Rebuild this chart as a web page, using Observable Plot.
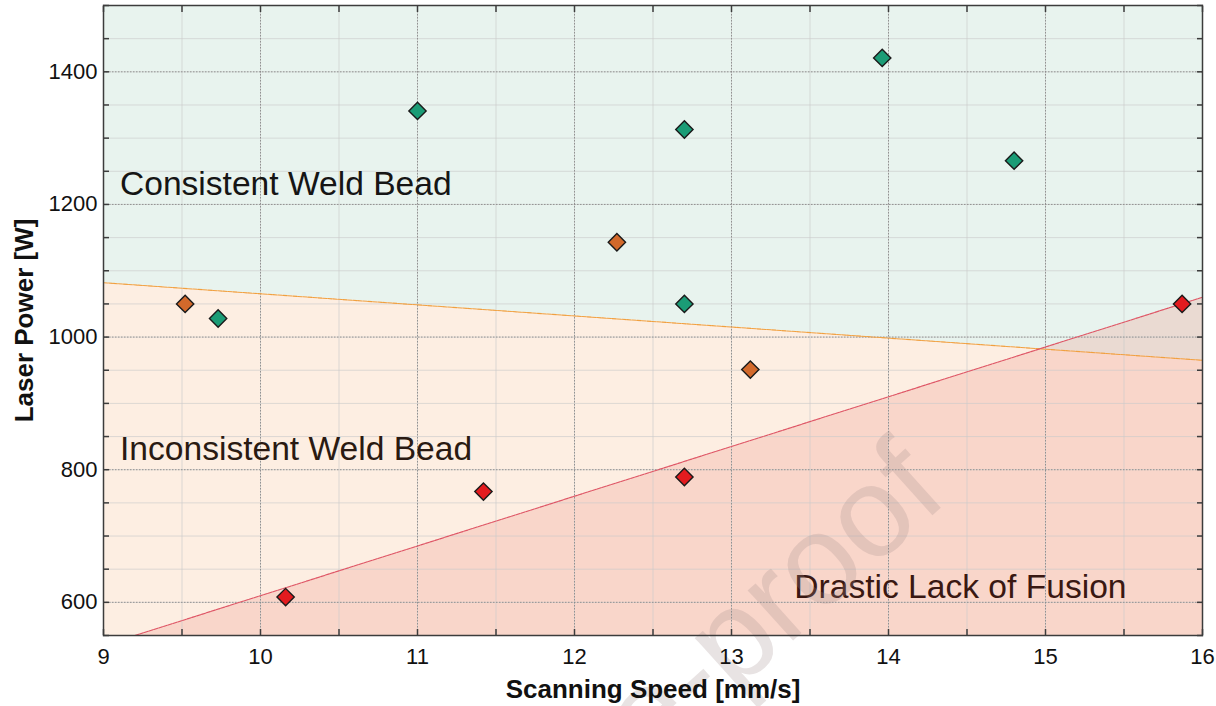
<!DOCTYPE html>
<html>
<head>
<meta charset="utf-8">
<script src="https://cdn.jsdelivr.net/npm/d3@7"></script>
<script src="https://cdn.jsdelivr.net/npm/@observablehq/plot@0.6"></script>
<style>
  html, body { margin: 0; padding: 0; background: #fff; }
  #chart { width: 1216px; height: 706px; }
</style>
</head>
<body>
<div id="chart"></div>
<script>
// ---- data ----
const xDomain = [9, 16];
const yDomain = [550, 1500];
const xMajorTicks = [9, 10, 11, 12, 13, 14, 15, 16];
const xMinorTicks = [9, 9.5, 10, 10.5, 11, 11.5, 12, 12.5, 13, 13.5, 14, 14.5, 15, 15.5, 16];
const yMajorTicks = [600, 800, 1000, 1200, 1400];
const yMinorTicks = [550, 600, 650, 700, 750, 800, 850, 900, 950, 1000, 1050, 1100, 1150, 1200, 1250, 1300, 1350, 1400, 1450, 1500];

const consistentX = [9.73, 11.0, 12.7, 12.7, 13.96, 14.8];
const consistentY = [1028, 1341, 1313, 1050, 1421, 1266];
const inconsistentX = [9.52, 12.27, 13.12];
const inconsistentY = [1050, 1143, 951];
const lackX = [10.16, 11.42, 12.7, 15.87];
const lackY = [608, 767, 789, 1050];

const orangeBoundaryX = [9, 16];
const orangeBoundaryY = [1082, 965];
const redBoundaryX = [9.2, 16];
const redBoundaryY = [550, 1060];

const regionLabels = ["Consistent Weld Bead", "Inconsistent Weld Bead", "Drastic Lack of Fusion"];
const regionLabelX = [9.105, 9.105, 13.40];
const regionLabelY = [1230, 831, 623];
const regionLabelColor = ["#151515", "#2a1a12", "#3a1812"];

const xLabel = "Scanning Speed [mm/s]";
const yLabel = "Laser Power [W]";
const watermark = "Journal Pre-proof";

// ---- build tables ----
const points = [
  ...consistentX.map((x, i) => ({x, y: consistentY[i], cls: "consistent"})),
  ...inconsistentX.map((x, i) => ({x, y: inconsistentY[i], cls: "inconsistent"})),
  ...lackX.map((x, i) => ({x, y: lackY[i], cls: "lack"}))
];
const orangeLine = orangeBoundaryX.map((x, i) => ({x, y: orangeBoundaryY[i]}));
const redLine = redBoundaryX.map((x, i) => ({x, y: redBoundaryY[i]}));
const labels = regionLabels.map((t, i) => ({t, x: regionLabelX[i], y: regionLabelY[i], c: regionLabelColor[i]}));

const colorOf = {consistent: "#1b9c76", inconsistent: "#d2692b", lack: "#e31b1f"};

const tickFont = 22;
const tickStyle = {tickSize: 6, tickFormat: () => "", label: null, stroke: "#3c3c3c", strokeWidth: 1.5};
const chart = Plot.plot({
  width: 1216,
  height: 706,
  marginLeft: 103,
  marginRight: 14,
  marginTop: 5,
  marginBottom: 71,
  style: {fontFamily: "'Liberation Sans', Arial, sans-serif", background: "#fff"},
  x: {domain: xDomain},
  y: {domain: yDomain},
  marks: [
    Plot.frame({fill: "#e8f3ee", stroke: null}),
    Plot.areaY(orangeLine, {x: "x", y1: yDomain[0], y2: "y", fill: "#fdeee2", clip: true}),
    Plot.areaY(redLine, {x: "x", y1: yDomain[0], y2: "y", fill: "rgb(241,150,138)", fillOpacity: 0.27, clip: true}),
    // grids
    Plot.gridX({ticks: xMinorTicks, stroke: "#c9c9c9", strokeOpacity: 0.8, strokeWidth: 0.8}),
    Plot.gridY({ticks: yMinorTicks, stroke: "#c9c9c9", strokeOpacity: 0.8, strokeWidth: 0.8}),
    Plot.gridX({ticks: xMajorTicks, stroke: "#8a8a8a", strokeOpacity: 0.9, strokeWidth: 1, strokeDasharray: "1.5,1.5"}),
    Plot.gridY({ticks: yMajorTicks, stroke: "#8a8a8a", strokeOpacity: 0.9, strokeWidth: 1, strokeDasharray: "1.5,1.5"}),
    // boundary lines
    Plot.line(orangeLine, {x: "x", y: "y", stroke: "#f0a040", strokeWidth: 1.1, strokeDasharray: "4,1", clip: true}),
    Plot.line(redLine, {x: "x", y: "y", stroke: "#de5566", strokeWidth: 1.1, strokeDasharray: "4,1", clip: true}),
    // region labels
    Plot.text(labels, {x: "x", y: "y", text: "t", fill: "c", textAnchor: "start", fontSize: 33.6}),
    // watermark
    Plot.text([watermark], {x: 14.22, y: 802, textAnchor: "end", rotate: -42, fontSize: 128, fill: "#a08888", fillOpacity: 0.24}),
    // points
    Plot.dot(points, {x: "x", y: "y", symbol: "diamond2", r: 7.8, fill: d => colorOf[d.cls], stroke: "#1a1a1a", strokeWidth: 1.4}),
    // inner ticks on all sides (outward ticks shifted inside the frame)
    Plot.axisX({anchor: "bottom", ticks: xMinorTicks, dy: -6, ...tickStyle}),
    Plot.axisX({anchor: "top", ticks: xMinorTicks, dy: 6, ...tickStyle}),
    Plot.axisY({anchor: "left", ticks: yMinorTicks, dx: 6, ...tickStyle}),
    Plot.axisY({anchor: "right", ticks: yMinorTicks, dx: -6, ...tickStyle}),
    // tick labels
    Plot.axisX({anchor: "bottom", ticks: xMajorTicks, tickSize: 0, tickPadding: 13, tickFormat: d => String(d), fontSize: tickFont, label: null, fill: "#111"}),
    Plot.axisY({anchor: "left", ticks: yMajorTicks, tickSize: 0, tickPadding: 6, tickFormat: d => String(d), fontSize: tickFont, label: null, fill: "#111"}),
    Plot.frame({stroke: "#3c3c3c", strokeWidth: 1.5}),
    // axis titles
    Plot.text([xLabel], {frameAnchor: "bottom", textAnchor: "middle", lineAnchor: "middle", dy: 54, fontSize: 26, fontWeight: "bold", fill: "#111"}),
    Plot.text([yLabel], {frameAnchor: "left", textAnchor: "middle", lineAnchor: "middle", dx: -79, rotate: -90, fontSize: 26, fontWeight: "bold", fill: "#111"})
  ]
});
document.getElementById("chart").appendChild(chart);
</script>
</body>
</html>
